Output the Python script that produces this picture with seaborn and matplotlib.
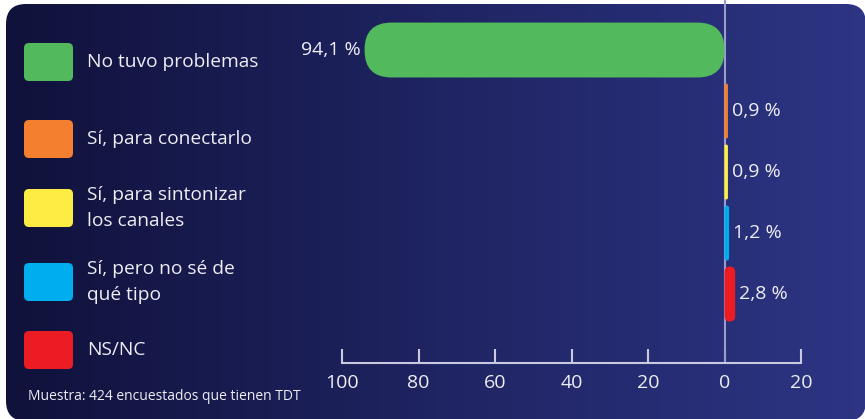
import numpy as np
import pandas as pd
import matplotlib
matplotlib.use("Agg")
import matplotlib.pyplot as plt
import seaborn as sns
from matplotlib.patches import FancyBboxPatch
from matplotlib.colors import LinearSegmentedColormap

# ---------------- data ----------------
categories = ["No tuvo problemas", "Sí, para conectarlo",
              "Sí, para sintonizar\nlos canales", "Sí, pero no sé de\nqué tipo", "NS/NC"]
values = [94.1, 0.9, 0.9, 1.2, 2.8]
directions = [-1, 1, 1, 1, 1]          # the first bar is drawn towards the left
value_labels = ["94,1 %", "0,9 %", "0,9 %", "1,2 %", "2,8 %"]
colors = ["#52b95c", "#f37f2f", "#fdec43", "#00adef", "#ec1c24"]
tick_values = [-100, -80, -60, -40, -20, 0, 20]
tick_labels = ["100", "80", "60", "40", "20", "0", "20"]
note = "Muestra: 424 encuestados que tienen TDT"

# ---------------- layout ----------------
W, H = 865, 419
FONT = ["Open Sans", "DejaVu Sans"]
TXT = "#eeeef5"
legend_cy = [62, 139, 208, 282, 350]

sns.set_theme(style="white")
plt.rcParams["font.family"] = FONT

fig = plt.figure(figsize=(W / 100, H / 100), dpi=100)
fig.patch.set_facecolor("white")

# background panel in pixel coordinates
bg = fig.add_axes([0, 0, 1, 1])
bg.set_xlim(0, W)
bg.set_ylim(H, 0)
bg.axis("off")
cmap = LinearSegmentedColormap.from_list("bgc", ["#10123b", "#1f2462", "#2d3584"])
grad = np.linspace(0, 1, 256)[None, :]
im = bg.imshow(grad, extent=[6, 866, 421, 4], aspect="auto", cmap=cmap, zorder=0)
clip = FancyBboxPatch((6, 4), 860, 417, boxstyle="round,pad=0,rounding_size=20",
                      transform=bg.transData, facecolor="none", edgecolor="none")
bg.add_patch(clip)
im.set_clip_path(clip)

# data axes
ax = fig.add_axes([342 / W, 1 - 363 / H, (801 - 342) / W, 363 / H])
ax.patch.set_alpha(0)
df = pd.DataFrame({"cat": categories,
                   "val": [d * v for d, v in zip(directions, values)]})
sns.barplot(data=df, y="cat", x="val", hue="cat", palette=colors, orient="h",
            width=0.9, saturation=1, legend=False, ax=ax)
ax.set_xlim(-100, 20)
ax.set_ylim(5.13, -0.82)

ax.axvline(0, color="#9a9dcb", lw=1.5, zorder=1)

# replace rectangles by rounded bars (pixel space for circular corners)
to_px = ax.transData + bg.transData.inverted()
for p in list(ax.patches):
    x0, y0 = p.get_x(), p.get_y()
    x1, y1 = x0 + p.get_width(), y0 + p.get_height()
    (px0, py0), (px1, py1) = to_px.transform([(x0, y0), (x1, y1)])
    l, r = min(px0, px1), max(px0, px1)
    t, b = min(py0, py1), max(py0, py1)
    w, h = r - l, b - t
    rad = min(27, w / 2, h / 2)
    fb = FancyBboxPatch((l, t), w, h, boxstyle=f"round,pad=0,rounding_size={rad}",
                        transform=bg.transData, facecolor=p.get_facecolor(),
                        edgecolor="none", zorder=2, clip_on=False)
    ax.add_patch(fb)
    p.remove()

for i, (v, d, lab) in enumerate(zip(values, directions, value_labels)):
    ax.annotate(lab, xy=(d * v, i), xytext=(3 * d, 0), textcoords="offset points",
                ha="right" if d < 0 else "left", va="center", color=TXT,
                fontsize=14, family=FONT)

ax.set_xticks(tick_values, tick_labels)
ax.set_yticks([])
ax.set_xlabel("")
ax.set_ylabel("")
for s in ["left", "top", "right"]:
    ax.spines[s].set_visible(False)
ax.spines["bottom"].set_color("#c9cae0")
ax.spines["bottom"].set_linewidth(1.5)
ax.tick_params(axis="x", direction="in", length=10, width=1.5, color="#c9cae0",
               labelcolor=TXT, labelsize=14, pad=8, bottom=True)
for t in ax.get_xticklabels():
    t.set_family(FONT)

# legend
for cat, col, cy in zip(categories, colors, legend_cy):
    bg.add_patch(FancyBboxPatch((24, cy - 19), 49, 38, boxstyle="round,pad=0,rounding_size=5",
                                facecolor=col, edgecolor="none", zorder=3))
    bg.text(87, cy, cat, ha="left", va="center", color=TXT, fontsize=13.8,
            linespacing=1.55, family=FONT, zorder=3)

bg.text(28, 396, note, ha="left", va="center", color=TXT, fontsize=10, family=FONT, zorder=3)

fig.savefig("out.png", dpi=100, facecolor="white")
